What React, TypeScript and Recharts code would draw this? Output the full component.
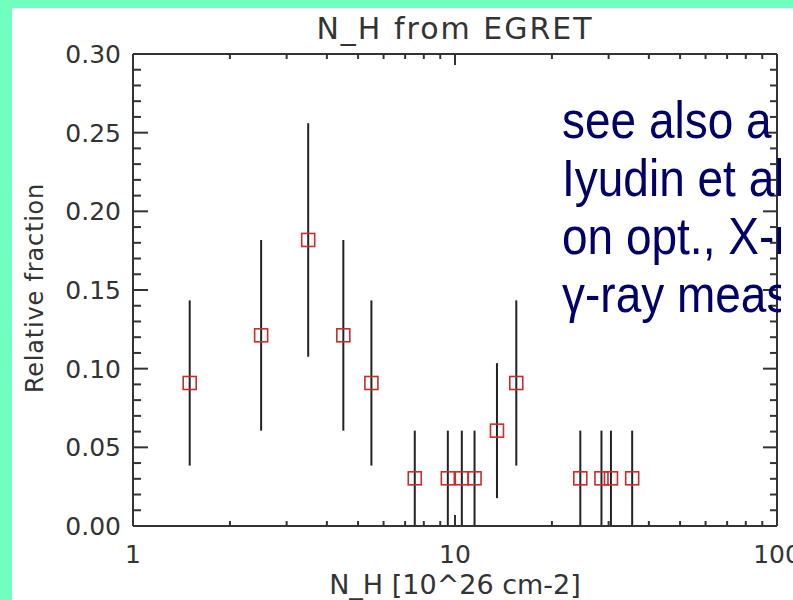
import { ScatterChart, Scatter, XAxis, YAxis, ErrorBar } from "recharts";

// N_H bins (10^26 cm-2) and relative fraction with 1-sigma limits
const nh = [1.5, 2.5, 3.5, 4.5, 5.5, 7.5, 9.5, 10.5, 11.5, 13.5, 15.5, 24.5, 28.5, 30.5, 35.5];
const frac = [0.0909, 0.1212, 0.1818, 0.1212, 0.0909, 0.0303, 0.0303, 0.0303, 0.0303, 0.0606, 0.0909, 0.0303, 0.0303, 0.0303, 0.0303];
const fracLo = [0.0384, 0.0606, 0.1076, 0.0606, 0.0384, 0, 0, 0, 0, 0.0177, 0.0384, 0, 0, 0, 0];
const fracHi = [0.1434, 0.1818, 0.256, 0.1818, 0.1434, 0.0606, 0.0606, 0.0606, 0.0606, 0.1035, 0.1434, 0.0606, 0.0606, 0.0606, 0.0606];

const xTicks = [1, 2, 3, 4, 5, 6, 7, 8, 9, 10, 20, 30, 40, 50, 60, 70, 80, 90, 100];
const xLabels = [1, 10, 100];
const yTicks = [
  0, 0.01, 0.02, 0.03, 0.04, 0.05, 0.06, 0.07, 0.08, 0.09, 0.1, 0.11, 0.12, 0.13, 0.14, 0.15,
  0.16, 0.17, 0.18, 0.19, 0.2, 0.21, 0.22, 0.23, 0.24, 0.25, 0.26, 0.27, 0.28, 0.29, 0.3,
];
const yLabels = [0, 0.05, 0.1, 0.15, 0.2, 0.25, 0.3];

const title = "N_H from EGRET";
const xTitle = "N_H [10^26 cm-2]";
const yTitle = "Relative fraction";
const note = ["see also a", "Iyudin et al.", "on opt., X-ray", "γ-ray meas."];

const rows = nh.map((x, i) => ({
  x,
  y: frac[i],
  err: [frac[i] - fracLo[i], fracHi[i] - frac[i]],
}));

const INK = "#333";
const AXIS_FONT = "'DejaVu Sans', sans-serif";
const axisLine = { stroke: INK, strokeWidth: 2 };
const isYMajor = (v: number) => yLabels.some((m) => Math.abs(m - v) < 1e-9);

function BottomTick(p: any) {
  const v = p.payload.value;
  const major = xLabels.includes(v);
  return (
    <g>
      <line x1={p.x} x2={p.x} y1={p.y} y2={p.y - (major ? 11 : 5)} stroke={INK} strokeWidth={2} />
      {major && (
        <text x={p.x} y={p.y + 37} textAnchor="middle" fontSize={25} fill={INK} fontFamily={AXIS_FONT}>
          {v}
        </text>
      )}
    </g>
  );
}

function TopTick(p: any) {
  const major = xLabels.includes(p.payload.value);
  return <line x1={p.x} x2={p.x} y1={p.y} y2={p.y + (major ? 11 : 5)} stroke={INK} strokeWidth={2} />;
}

function LeftTick(p: any) {
  const v = p.payload.value;
  const major = isYMajor(v);
  return (
    <g>
      <line x1={p.x} x2={p.x + (major ? 15 : 8)} y1={p.y} y2={p.y} stroke={INK} strokeWidth={2} />
      {major && (
        <text x={p.x - 12} y={p.y} dy="0.36em" textAnchor="end" fontSize={25} fill={INK} fontFamily={AXIS_FONT}>
          {v.toFixed(2)}
        </text>
      )}
    </g>
  );
}

function RightTick(p: any) {
  const major = isYMajor(p.payload.value);
  return <line x1={p.x} x2={p.x - (major ? 14 : 7)} y1={p.y} y2={p.y} stroke={INK} strokeWidth={2} />;
}

const Box = (p: any) => (
  <rect x={p.cx - 6.5} y={p.cy - 6.5} width={13} height={13} fill="none" stroke="#cc2b2b" strokeWidth={1.6} />
);

export default function App() {
  return (
    <div style={{ position: "absolute", left: 0, top: 0, width: 793, height: 600, background: "#70FFBE", overflow: "hidden" }}>
      <div style={{ position: "absolute", left: 12, top: 8, right: 0, bottom: 0, background: "#fff" }} />
      <div style={{ position: "absolute", left: 0, top: 0 }}>
        <ScatterChart width={793} height={600} margin={{ top: 53, right: 15, bottom: 73, left: 132 }}>
          <XAxis xAxisId="b" type="number" dataKey="x" scale="log" domain={[1, 100]} allowDataOverflow
            ticks={xTicks} interval={0} height={1} tickSize={0} tickMargin={0} axisLine={axisLine} tick={<BottomTick />} />
          <XAxis xAxisId="t" orientation="top" type="number" dataKey="x" scale="log" domain={[1, 100]} allowDataOverflow
            ticks={xTicks} interval={0} height={1} tickSize={0} tickMargin={0} axisLine={axisLine} tick={<TopTick />} />
          <YAxis yAxisId="l" type="number" dataKey="y" domain={[0, 0.3]} allowDataOverflow
            ticks={yTicks} interval={0} width={1} tickSize={0} tickMargin={0} axisLine={axisLine} tick={<LeftTick />} />
          <YAxis yAxisId="r" orientation="right" type="number" dataKey="y" domain={[0, 0.3]} allowDataOverflow
            ticks={yTicks} interval={0} width={1} tickSize={0} tickMargin={0} axisLine={axisLine} tick={<RightTick />} />
          <Scatter data={rows} xAxisId="b" yAxisId="l" shape={Box} isAnimationActive={false}>
            <ErrorBar dataKey="err" direction="y" width={0} stroke="#222" strokeWidth={2} isAnimationActive={false} />
          </Scatter>
        </ScatterChart>
      </div>
      <svg width={793} height={600} style={{ position: "absolute", left: 0, top: 0, pointerEvents: "none" }}>
        <defs>
          <clipPath id="noteClip">
            <rect x={0} y={0} width={781} height={600} />
          </clipPath>
        </defs>
        <text x={455} y={39} textAnchor="middle" fontSize={30} letterSpacing={2} fill={INK} fontFamily={AXIS_FONT}>
          {title}
        </text>
        <text x={455} y={594} textAnchor="middle" fontSize={27} fill={INK} fontFamily={AXIS_FONT}>
          {xTitle}
        </text>
        <text transform="translate(43 288) rotate(-90)" textAnchor="middle" fontSize={24} letterSpacing={0.8}
          fill={INK} fontFamily={AXIS_FONT}>
          {yTitle}
        </text>
        <g clipPath="url(#noteClip)">
          {note.map((line, i) => (
            <text key={i} x={0} y={0} transform={`translate(562 ${138 + i * 58}) scale(1 1.12)`} fontSize={46}
              fill="#000066" fontFamily="'Liberation Sans', Arial, sans-serif">
              {line}
            </text>
          ))}
        </g>
      </svg>
    </div>
  );
}
